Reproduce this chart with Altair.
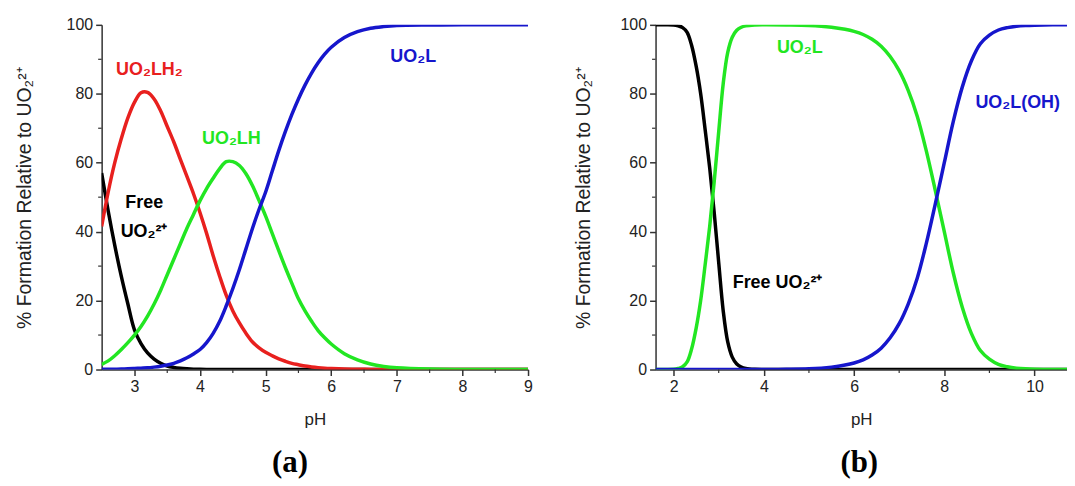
import altair as alt
import pandas as pd

# ---------------- Panel (a) data ----------------
ph_a = [2.5, 2.6, 2.7, 2.8, 2.9, 3.0, 3.1, 3.2, 3.3, 3.4, 3.5, 3.6, 3.7, 3.8, 3.9,
        4.0, 4.1, 4.2, 4.3, 4.4, 4.5, 4.6, 4.7, 4.8, 4.9, 5.0, 5.1, 5.2, 5.3, 5.4,
        5.5, 5.6, 5.7, 5.8, 5.9, 6.0, 6.2, 6.4, 6.6, 6.8, 7.0, 7.5, 8.0, 8.5, 9.0]
free_a = [57, 46, 36, 27, 19, 11.5, 7.5, 4.8, 3.0, 1.8, 1.0, 0.6, 0.35, 0.2, 0.1,
          0.06, 0.03, 0.02, 0.01, 0, 0, 0, 0, 0, 0, 0, 0, 0, 0, 0,
          0, 0, 0, 0, 0, 0, 0, 0, 0, 0, 0, 0, 0, 0, 0]
lh2_a = [41.5, 51.5, 60, 67, 73, 77.5, 80.3, 80.4, 78.5, 75, 70.5, 66, 61, 56, 51,
         45.5, 39.5, 33, 27, 21.5, 17, 13.5, 10.5, 8, 6.3, 5, 4, 3.1, 2.4, 1.8,
         1.4, 1.0, 0.75, 0.55, 0.4, 0.3, 0.15, 0.08, 0.04, 0.02, 0.01, 0, 0, 0, 0]
lh_a = [1.5, 2.5, 4, 5.8, 7.8, 10, 12.5, 15.5, 19, 23, 27.5, 32, 36.5, 41, 45,
        49, 52.5, 55.5, 58.3, 60.3, 60.3, 59.2, 56.8, 53.3, 49, 44.5, 39.5, 34.5, 29.6, 25,
        20.5, 17, 14, 11.3, 9.2, 7.4, 4.6, 2.8, 1.6, 0.9, 0.5, 0.12, 0.03, 0, 0]
l_a = [0.05, 0.07, 0.1, 0.13, 0.2, 0.3, 0.4, 0.5, 0.7, 0.95, 1.3, 1.8, 2.5, 3.4, 4.5,
       5.8, 7.8, 10.5, 14, 18.5, 23.5, 29, 35, 41, 46.5, 51.5, 57.5, 63.5, 69, 74,
       78.5, 82.5, 86, 89, 91.5, 93.5, 96.3, 98, 99, 99.5, 99.8, 99.95, 100, 100, 100]

# ---------------- Panel (b) data ----------------
ph_b = [1.6, 1.8, 2.0, 2.1, 2.2, 2.3, 2.4, 2.5, 2.6, 2.7, 2.8, 2.9, 3.0, 3.1, 3.2, 3.3,
        3.4, 3.5, 3.6, 3.8, 4.0, 4.5, 5.0, 5.5, 5.8, 6.0, 6.2, 6.4, 6.6, 6.8, 7.0, 7.2,
        7.4, 7.6, 7.8, 8.0, 8.2, 8.4, 8.6, 8.8, 9.0, 9.2, 9.4, 9.6, 9.8, 10.0, 10.4, 10.8]
free_b = [100, 100, 99.95, 99.7, 99.2, 97.8, 94, 88, 80, 69.5, 58.5, 45.5, 31, 17, 8, 3.6,
          1.6, 0.7, 0.3, 0.05, 0, 0, 0, 0, 0, 0, 0, 0, 0, 0, 0, 0,
          0, 0, 0, 0, 0, 0, 0, 0, 0, 0, 0, 0, 0, 0, 0, 0]
l_b = [0, 0, 0.05, 0.3, 0.8, 2.2, 6, 12, 20, 30.5, 41.5, 54.5, 69, 83, 92, 96.4,
       98.4, 99.3, 99.7, 99.95, 100, 99.95, 99.8, 99.3, 98.7, 98.1, 97.2, 95.8, 93.8, 90.8, 86.7, 81,
       73.5, 63.5, 52, 40, 28, 18, 10.5, 5.5, 3, 1.5, 0.8, 0.4, 0.2, 0.1, 0, 0]
loh_b = [0, 0, 0, 0, 0, 0, 0, 0, 0, 0, 0, 0, 0, 0, 0, 0,
         0, 0, 0, 0, 0, 0.05, 0.2, 0.7, 1.3, 1.9, 2.8, 4.2, 6.2, 9.2, 13.3, 19,
         26.5, 36.5, 48, 60, 72, 82, 89.5, 94.5, 97, 98.5, 99.2, 99.6, 99.8, 99.9, 100, 100]

# ---------------- Annotations ----------------
ann_a_text = ["UO₂LH₂", "UO₂LH", "UO₂L", "Free", "UO₂²⁺"]
ann_a_ph = [2.72, 4.03, 6.9, 3.15, 2.79]
ann_a_v = [87, 67, 90.8, 48.3, 40]
ann_a_color = ["#e8201e", "#22e622", "#1616cc", "#000000", "#000000"]
ann_a_align = ["left", "left", "left", "center", "left"]

ann_b_text = ["UO₂L", "UO₂L(OH)", "Free UO₂²⁺"]
ann_b_ph = [4.29, 8.69, 3.31]
ann_b_v = [93.3, 77.4, 25]
ann_b_color = ["#22e622", "#1616cc", "#000000"]

minor_y = [10, 30, 50, 70, 90]
minor_x_a = [3.5, 4.5, 5.5, 6.5, 7.5, 8.5]
minor_x_b = [3, 5, 7, 9]

COLORS = {"free": "#000000", "red": "#e8201e", "green": "#22e622", "blue": "#1616cc"}
FONT = "Liberation Sans"
YTITLE = "% Formation Relative to UO₂²⁺"


def axis_x(values):
    return alt.Axis(values=values, format="d", title="pH", titleFontSize=17,
                    titleFontWeight="normal", titleFont=FONT, labelFont=FONT,
                    labelFontSize=16, labelColor="#222", titleColor="#222",
                    tickSize=6, tickWidth=1.5, tickColor="#333", domainColor="#333",
                    domainWidth=1.5, grid=False, labelPadding=3, titlePadding=17,
                    labelFlush=False)


def axis_y(title_pad):
    return alt.Axis(values=[0, 20, 40, 60, 80, 100], title=YTITLE, titleFontSize=19.5,
                    titleFontWeight="normal", titleFont=FONT, labelFont=FONT,
                    labelFontSize=16, labelColor="#222", titleColor="#222",
                    tickSize=6, tickWidth=1.5, tickColor="#333", domainColor="#333",
                    domainWidth=1.5, grid=False, labelPadding=3, titlePadding=title_pad)


def panel(ph, series, domain, xvals, minor_x, ann, title, title_dx, ypad, width):
    xs = alt.Scale(domain=domain, nice=False, zero=False)
    ys = alt.Scale(domain=[0, 100], nice=False)
    ax = axis_x(xvals)
    ay = axis_y(ypad)
    X = lambda: alt.X("pH:Q", scale=xs, axis=ax)
    Y = lambda: alt.Y("v:Q", scale=ys, axis=ay)
    layers = []
    for vals, col in series:
        df = pd.DataFrame({"pH": ph, "v": vals})
        layers.append(alt.Chart(df).mark_line(color=col, strokeWidth=3.5,
                                              interpolate="catmull-rom", clip=True).encode(
            x=X(), y=Y()))
    # minor ticks
    my = pd.DataFrame({"v": minor_y})
    layers.append(alt.Chart(my).mark_rule(color="#333", strokeWidth=1.2).encode(
        y=Y(), x=alt.value(-3.5), x2=alt.value(0)))
    mx = pd.DataFrame({"pH": minor_x})
    layers.append(alt.Chart(mx).mark_rule(color="#333", strokeWidth=1.2).encode(
        x=X(), y=alt.value(346), y2=alt.value(349.5)))
    # annotations
    adf = pd.DataFrame(ann)
    for al in adf["align"].unique():
        sub = adf[adf["align"] == al]
        layers.append(alt.Chart(sub).mark_text(font=FONT, fontSize=18, fontWeight="bold",
                                               align=al, baseline="middle").encode(
            x=X(), y=Y(),
            text="text:N",
            color=alt.Color("color:N", scale=None)))
    return alt.layer(*layers).properties(
        width=width, height=346,
        title=alt.TitleParams(title, orient="bottom", font="Liberation Serif", fontSize=31,
                              fontWeight="bold", color="#000", offset=21, dx=title_dx))


ann_a = {"text": ann_a_text, "pH": ann_a_ph, "v": ann_a_v, "color": ann_a_color,
         "align": ann_a_align}
ann_b = {"text": ann_b_text, "pH": ann_b_ph, "v": ann_b_v, "color": ann_b_color,
         "align": ["left"] * len(ann_b_text)}

pa = panel(ph_a, [(free_a, COLORS["free"]), (lh2_a, COLORS["red"]),
                  (lh_a, COLORS["green"]), (l_a, COLORS["blue"])],
           [2.5, 9], [3, 4, 5, 6, 7, 8, 9], minor_x_a, ann_a, "(a)", -25, 32, 428)
pb = panel(ph_b, [(free_b, COLORS["free"]), (l_b, COLORS["green"]),
                  (loh_b, COLORS["blue"])],
           [1.6, 10.72], [2, 4, 6, 8, 10], minor_x_b, ann_b, "(b)", -2, 27, 413)

chart = alt.hconcat(pa, pb, spacing=40).properties(
    padding={"left": 6, "top": 8, "right": 0, "bottom": 0}
).configure_view(stroke=None)

chart.save("out.html", embed_options={"renderer": "svg", "actions": False})
